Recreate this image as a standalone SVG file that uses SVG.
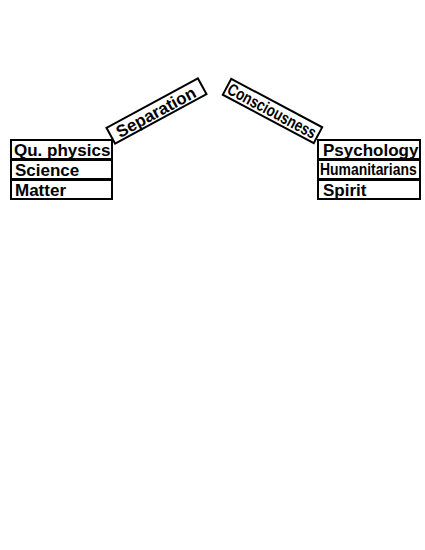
<svg xmlns="http://www.w3.org/2000/svg" width="425" height="550" viewBox="0 0 425 550">
<style>
.box{fill:#fff;stroke:#000;stroke-width:2}
.t{font-family:"Liberation Sans",Arial,sans-serif;font-weight:bold;font-size:17px;fill:#000}
</style>
<rect width="425" height="550" fill="#fff"/>
<g id="left">
<g id="qu"><rect class="box" x="11" y="140" width="101" height="19"/><text class="t" x="14" y="155.5">Qu. physics</text></g>
<g id="science"><rect class="box" x="11" y="160" width="101" height="19"/><text class="t" x="15" y="175.5">Science</text></g>
<g id="matter"><rect class="box" x="11" y="180" width="101" height="19"/><text class="t" x="15" y="195.5">Matter</text></g>
</g>
<g id="right">
<g id="psych"><rect class="box" x="318" y="140" width="102" height="19"/><text class="t" x="323" y="155.5">Psychology</text></g>
<g id="human"><rect class="box" x="318" y="160" width="102" height="19"/><text class="t" transform="translate(320,175) scale(0.87,1)" x="0" y="0" style="font-size:16px">Humanitarians</text></g>
<g id="spirit"><rect class="box" x="318" y="180" width="102" height="19"/><text class="t" x="323" y="195.5">Spirit</text></g>
</g>
<g id="separation" transform="translate(156.5,111) rotate(-28.5)">
<rect class="box" x="-52" y="-9" width="104" height="18"/>
<text class="t" x="-45" y="6.5">Separation</text>
</g>
<g id="consciousness" transform="translate(272.5,111) rotate(28)">
<rect class="box" x="-51.5" y="-9" width="103" height="18"/>
<text class="t" x="-49.5" y="6" textLength="98" lengthAdjust="spacingAndGlyphs">Consciousness</text>
</g>
</svg>
